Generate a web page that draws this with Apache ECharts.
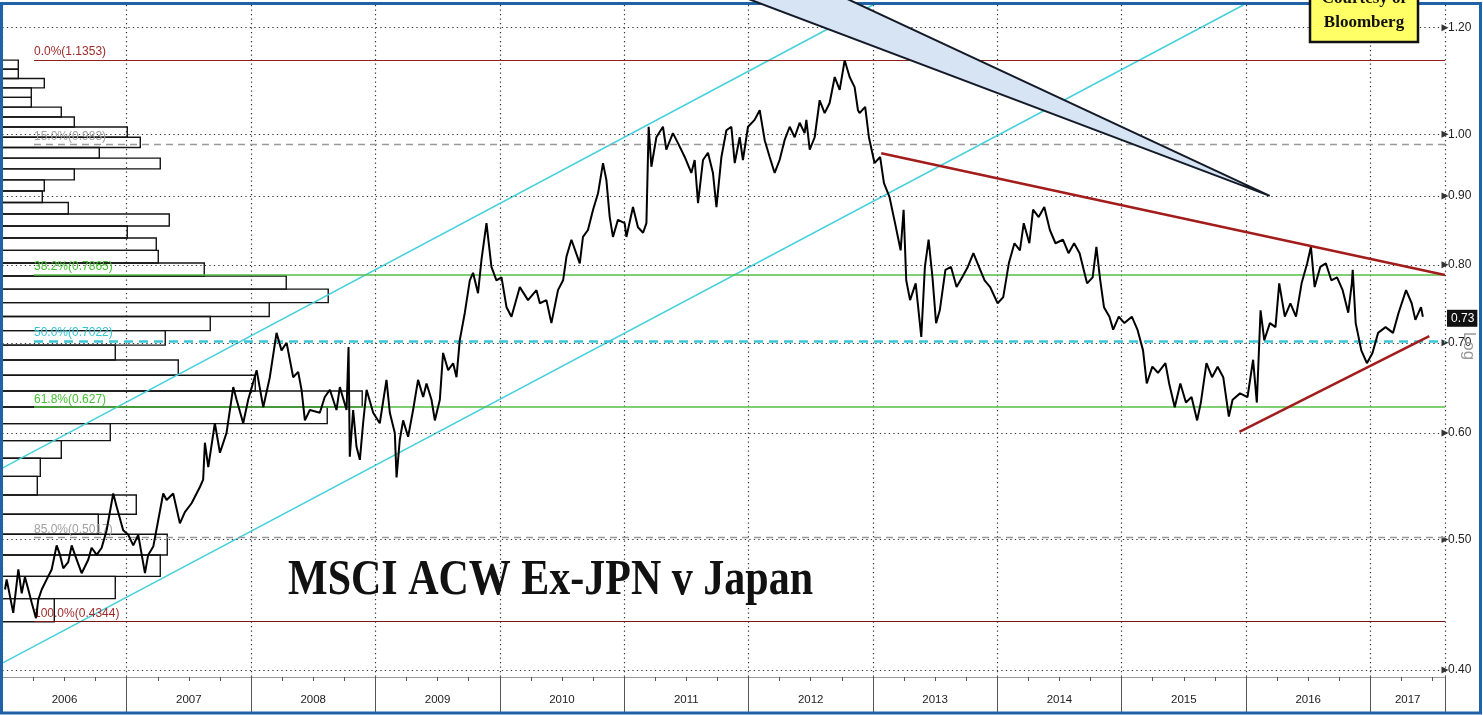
<!DOCTYPE html>
<html><head><meta charset="utf-8">
<script src="https://cdn.jsdelivr.net/npm/echarts@6/dist/echarts.min.js"></script>
<style>html,body{margin:0;padding:0;background:#fff}#c{width:1483px;height:715px}</style>
</head><body><div id="c"></div>
<script>
// ---------------- DATA ----------------
const priceDates = [
2006.022,2006.035,2006.088,2006.129,2006.156,2006.182,2006.209,2006.236,2006.271,2006.289,
2006.317,2006.357,2006.397,2006.437,2006.464,2006.490,2006.530,2006.558,2006.584,2006.638,
2006.691,2006.718,2006.759,2006.799,2006.839,2006.892,2006.919,2006.972,2007.013,2007.053,
2007.093,2007.147,2007.173,2007.214,2007.254,2007.294,2007.321,2007.374,2007.428,2007.468,
2007.522,2007.562,2007.589,2007.615,
2007.629,2007.656,2007.709,2007.750,2007.803,2007.830,2007.857,2007.884,2007.937,2007.977,
2008.045,2008.098,2008.151,2008.205,2008.245,2008.286,2008.339,2008.379,2008.406,2008.433,
2008.473,2008.553,2008.593,2008.634,2008.687,2008.714,2008.768,2008.784,2008.794,2008.821,
2008.848,2008.875,2008.901,2008.929,2008.982,2009.035,2009.089,2009.116,2009.156,2009.170,
2009.196,2009.223,2009.263,2009.303,2009.343,2009.384,2009.411,2009.451,2009.478,2009.518,
2009.544,2009.585,2009.625,2009.652,2009.678,2009.719,2009.759,2009.785,2009.825,2009.853,
2009.893,2009.933,2009.973,2010.014,2010.054,2010.094,2010.161,2010.227,2010.295,2010.322,
2010.375,2010.415,2010.468,2010.509,2010.536,2010.576,2010.643,2010.669,2010.709,2010.750,
2010.790,2010.830,2010.857,2010.884,2010.910,2010.950,2011.004,2011.018,2011.071,2011.111,
2011.152,2011.179,2011.197,2011.219,2011.259,2011.312,2011.339,2011.392,2011.433,2011.487,
2011.540,2011.567,2011.594,2011.634,2011.674,2011.714,2011.742,2011.782,2011.822,2011.862,
2011.889,2011.929,2011.955,2011.996,2012.049,2012.090,2012.130,2012.170,2012.210,2012.250,
2012.290,2012.331,2012.371,2012.411,2012.451,2012.465,2012.492,2012.532,2012.572,2012.612,
2012.652,2012.693,2012.733,2012.773,2012.813,2012.853,2012.880,
2012.893,2012.938,2012.968,2013.013,2013.058,2013.089,2013.134,2013.178,2013.223,2013.247,
2013.268,2013.299,2013.344,2013.389,2013.418,2013.448,2013.479,2013.508,2013.538,2013.583,
2013.628,2013.673,2013.718,2013.763,2013.808,2013.853,2013.898,2013.943,2014.003,2014.048,
2014.093,2014.138,2014.182,2014.213,2014.258,2014.288,2014.333,2014.378,2014.423,2014.468,
2014.528,2014.573,2014.618,2014.662,2014.722,2014.767,2014.797,2014.828,2014.858,2014.902,
2014.932,2014.977,2015.022,2015.082,2015.127,2015.172,2015.202,2015.247,2015.292,2015.352,
2015.382,2015.427,2015.472,2015.517,2015.562,2015.607,2015.637,2015.682,2015.727,2015.772,
2015.817,2015.862,2015.892,2015.952,2016.012,2016.057,2016.087,2016.117,2016.147,2016.192,
2016.237,2016.267,2016.312,2016.357,2016.402,2016.447,2016.492,2016.522,2016.552,2016.597,
2016.642,2016.686,2016.732,2016.777,2016.822,2016.851,2016.858,2016.882,2016.927,2016.972,
2017.017,2017.062,2017.122,2017.182,2017.227,2017.287,2017.332,2017.362,2017.407,2017.422
];
const priceValues = [
0.459,0.467,0.441,0.475,0.456,0.469,0.459,0.449,0.437,0.451,
0.459,0.467,0.475,0.495,0.487,0.476,0.481,0.495,0.487,0.472,
0.483,0.493,0.487,0.493,0.508,0.541,0.529,0.508,0.504,0.495,
0.504,0.472,0.487,0.494,0.517,0.541,0.535,0.541,0.514,0.524,
0.532,0.541,0.547,0.554,
0.590,0.566,0.610,0.580,0.600,0.624,0.649,0.635,0.610,0.635,
0.668,0.627,0.660,0.712,0.691,0.700,0.660,0.666,0.646,0.613,
0.624,0.621,0.638,0.646,0.624,0.649,0.624,0.695,0.576,0.624,
0.586,0.573,0.610,0.646,0.621,0.610,0.657,0.621,0.600,0.556,
0.593,0.613,0.596,0.624,0.657,0.638,0.653,0.635,0.613,0.635,
0.688,0.668,0.676,0.660,0.703,0.737,0.779,0.789,0.762,0.807,
0.859,0.797,0.779,0.783,0.744,0.732,0.770,0.753,0.766,0.749,
0.753,0.724,0.766,0.779,0.811,0.835,0.802,0.839,0.849,0.879,
0.904,0.952,0.925,0.868,0.839,0.864,0.859,0.839,0.883,0.853,
0.845,0.859,1.013,0.946,0.995,1.013,0.974,1.002,0.985,0.962,
0.936,0.957,0.889,0.957,0.969,0.936,0.883,0.962,1.007,1.013,
0.952,0.995,0.957,1.013,1.025,1.042,0.990,0.962,0.936,0.957,
0.990,1.013,0.995,1.020,1.002,1.025,0.974,0.995,1.060,1.037,
1.055,1.103,1.079,1.135,1.103,1.084,1.042,
1.037,1.048,0.995,0.952,0.962,0.920,0.898,0.859,0.820,0.879,
0.779,0.753,0.775,0.707,0.797,0.835,0.783,0.724,0.740,0.793,
0.797,0.770,0.783,0.797,0.816,0.797,0.779,0.770,0.749,0.757,
0.802,0.830,0.820,0.859,0.830,0.879,0.868,0.883,0.849,0.830,
0.835,0.816,0.830,0.816,0.775,0.783,0.825,0.779,0.744,0.732,
0.716,0.732,0.724,0.732,0.716,0.691,0.653,0.672,0.665,0.676,
0.653,0.627,0.653,0.632,0.638,0.613,0.632,0.676,0.660,0.672,
0.660,0.617,0.635,0.642,0.638,0.680,0.632,0.740,0.703,0.724,
0.719,0.775,0.732,0.749,0.732,0.775,0.802,0.825,0.770,0.797,
0.802,0.779,0.783,0.766,0.737,0.775,0.793,0.724,0.691,0.676,
0.688,0.712,0.719,0.712,0.737,0.766,0.749,0.728,0.744,0.732
];
// price-distribution histogram: 40 equal price bins from histLow to histHigh (bottom -> top)
const histLow = 0.4344, histHigh = 1.1353;
const histCounts = [52,113,158,165,96,134,35,38,59,108,325,360,253,176,113,163,208,267,326,284,
                    202,156,154,125,167,66,40,42,72,158,97,138,125,72,59,29,29,42,16,16];
// Fibonacci retracement levels
const fibNames  = ['0.0%','15.0%','38.2%','50.0%','61.8%','85.0%','100.0%'];
const fibValues = [1.1353,0.983,0.7865,0.7022,0.627,0.5017,0.4344];
const fibTexts  = ['1.1353','0.983','0.7865','0.7022','0.627','0.5017','0.4344'];
// axis ticks
const yTicks = [0.40,0.50,0.60,0.70,0.80,0.90,1.00,1.20];
const years = [2006,2007,2008,2009,2010,2011,2012,2013,2014,2015,2016,2017];
// trend / channel lines
const upperChYears = [2006.0, 2013.0],   upperChValues = [0.565, 1.2476];
const lowerChYears = [2006.0, 2015.979], lowerChValues = [0.4047, 1.2476];
const downTrendYears = [2013.067, 2017.6],  downTrendValues = [0.968, 0.786];
const upTrendYears = [2015.947, 2017.474],  upTrendValues = [0.601, 0.708];
// callout wedge
const wedgeYears = [2011.936, 2016.191, 2012.743];
const wedgeValues = [1.2669, 0.900, 1.2669];

// ---------------- CHART ----------------
const xMin = 2006, xMax = 2017.6;
const yMin = 0.3952, yMax = 1.2476;
const fibStart = 2006.255;
const FONT = "'Liberation Sans', Arial, sans-serif";
const FS = 11.5;
const fibColors = ['#9e2a2a','#a0a0a0','#46c033','#35c3d3','#46c033','#a0a0a0','#9e2a2a'];
const fibLine = [
  {color:'#8e2020', width:1.2, type:'solid'},
  {color:'#9a9a9a', width:1.3, type:[7,5]},
  {color:'#55c044', width:1.5, type:'solid'},
  {color:'#3cc6d6', width:2.5, type:[9,6]},
  {color:'#55c044', width:1.5, type:'solid'},
  {color:'#9a9a9a', width:1.3, type:[7,5]},
  {color:'#7a1515', width:1.2, type:'solid'}
];
const histStep = (histHigh - histLow) / histCounts.length;
const histData = histCounts.map((c,i)=>[c, histLow+i*histStep, histLow+(i+1)*histStep]);
const priceData = priceDates.map((d,i)=>[d, priceValues[i]]);
const lastVal = priceValues[priceValues.length-1];
const yearLabelPos = years.map(y=>Math.min(y+0.5,(y+xMax)/2));

const chart = echarts.init(document.getElementById('c'), null, {renderer:'canvas'});
const option = {
  animation:false,
  backgroundColor:'#ffffff',
  grid:{left:2.3, right:38, top:5, bottom:38, containLabel:false},
  xAxis:[{
    type:'value', min:xMin, max:xMax, interval:1,
    axisLine:{show:true, lineStyle:{color:'#9a9a9a', width:1}},
    axisTick:{show:true, length:35, lineStyle:{color:'#555', width:1}},
    minorTick:{show:true, splitNumber:4, length:4, lineStyle:{color:'#555', width:1}},
    splitLine:{show:true, lineStyle:{color:'#333', type:[1.3,3.2], width:1.2}},
    axisLabel:{customValues:yearLabelPos, formatter:v=>String(Math.floor(v+1e-6)),
      margin:17, fontSize:FS, color:'#222', fontFamily:FONT}
  },{
    type:'value', min:0, max:1443, show:false
  }],
  yAxis:{
    type:'log', min:yMin, max:yMax, position:'right',
    axisLine:{show:true, lineStyle:{color:'#9a9a9a', width:1}},
    axisLabel:{show:false}, axisTick:{show:false}, splitLine:{show:false}
  },
  series:[
    { // horizontal grid lines + right tick labels
      type:'line', name:'grid', data:[], z:1, silent:true,
      markLine:{silent:true, animation:false, symbol:['none','triangle'], symbolSize:7,
        lineStyle:{color:'#333', type:[1.3,3.2], width:1.2},
        label:{show:true, position:'end', distance:3, color:'#222', fontSize:FS+0.5, fontFamily:FONT},
        data:yTicks.map(v=>({yAxis:v, label:{formatter:v.toFixed(2)}}))
      }
    },
    { // price distribution histogram
      type:'custom', name:'hist', xAxisIndex:1, yAxisIndex:0, z:2, silent:true,
      data:histData, encode:{x:0, y:[1,2]},
      renderItem:(params, api)=>{
        const p0 = api.coord([0, api.value(2)]);
        const p1 = api.coord([api.value(0), api.value(1)]);
        return {type:'rect', shape:{x:p0[0], y:p0[1], width:p1[0]-p0[0], height:p1[1]-p0[1]},
          style:{fill:'rgba(255,255,255,0)', stroke:'#141414', lineWidth:1.4}};
      }
    },
    { // fibonacci levels
      type:'line', name:'fib', data:[], z:3, silent:true,
      markLine:{silent:true, animation:false, symbol:['none','none'],
        data:fibValues.map((v,i)=>[
          {coord:[fibStart, v], lineStyle:fibLine[i],
           label:{show:true, position:'insideStartTop', distance:[0,2], formatter:fibNames[i]+'('+fibTexts[i]+')',
                  color:fibColors[i], fontSize:FS+0.5, fontFamily:FONT}},
          {coord:[xMax, v]}
        ])
      }
    },
    {type:'line', name:'upperChannel', z:3, symbol:'none', silent:true, clip:true,
     data:upperChYears.map((d,i)=>[d, upperChValues[i]]), lineStyle:{color:'#45d0dc', width:1.5}},
    {type:'line', name:'lowerChannel', z:3, symbol:'none', silent:true, clip:true,
     data:lowerChYears.map((d,i)=>[d, lowerChValues[i]]), lineStyle:{color:'#45d0dc', width:1.5}},
    {type:'line', name:'price', z:5, symbol:'none', silent:true, data:priceData,
     lineStyle:{color:'#000', width:2},
     markLine:{silent:true, animation:false, symbol:['none','none'],
       lineStyle:{color:'rgba(0,0,0,0)', width:1, type:'solid'},
       data:[{yAxis:lastVal, label:{show:true, position:'end', distance:2, formatter:lastVal.toFixed(2),
          color:'#fff', backgroundColor:'#111', padding:[3,3,2,4], fontSize:FS+0.5, fontFamily:FONT}}]}
    },
    {type:'line', name:'downTrend', z:6, symbol:'none', silent:true,
     data:downTrendYears.map((d,i)=>[d, downTrendValues[i]]), lineStyle:{color:'#a31c1c', width:2.5}},
    {type:'line', name:'upTrend', z:6, symbol:'none', silent:true,
     data:upTrendYears.map((d,i)=>[d, upTrendValues[i]]), lineStyle:{color:'#a31c1c', width:2.5}},
    {type:'custom', name:'wedge', z:60, silent:true, clip:false, data:[[0]],
     renderItem:(params, api)=>({type:'polygon',
       shape:{points:wedgeYears.map((d,i)=>api.coord([d, wedgeValues[i]]))},
       style:{fill:'#d6e4f4', stroke:'#141a28', lineWidth:2}})
    }
  ],
  graphic:[
    {type:'rect', z:50, silent:true, shape:{x:1.5, y:3.5, width:1479, height:709.5},
     style:{fill:'none', stroke:'#1f62a8', lineWidth:3}},
    {type:'text', z:55, x:288, y:581, scaleX:0.84, silent:true,
     style:{text:'MSCI ACW Ex-JPN v Japan', fill:'#111', font:"bold 50px 'Liberation Serif', serif",
            align:'left', verticalAlign:'middle'}},
    {type:'text', z:55, x:1469, y:346, rotation:-Math.PI/2, silent:true,
     style:{text:'Log', fill:'#9a9a9a', font:"17px 'Liberation Sans', sans-serif", align:'center', verticalAlign:'middle'}},
    {type:'rect', z:70, silent:true, shape:{x:1310, y:-20, width:108, height:62},
     style:{fill:'#ffff66', stroke:'#111', lineWidth:2.5}},
    {type:'text', z:71, x:1364, y:-1, silent:true,
     style:{text:'Courtesy of', fill:'#111', font:"bold 17px 'Liberation Serif', serif", align:'center', verticalAlign:'middle'}},
    {type:'text', z:71, x:1364, y:23, silent:true,
     style:{text:'Bloomberg', fill:'#111', font:"bold 17px 'Liberation Serif', serif", align:'center', verticalAlign:'middle'}}
  ]
};
chart.setOption(option);
</script>
</body></html>
